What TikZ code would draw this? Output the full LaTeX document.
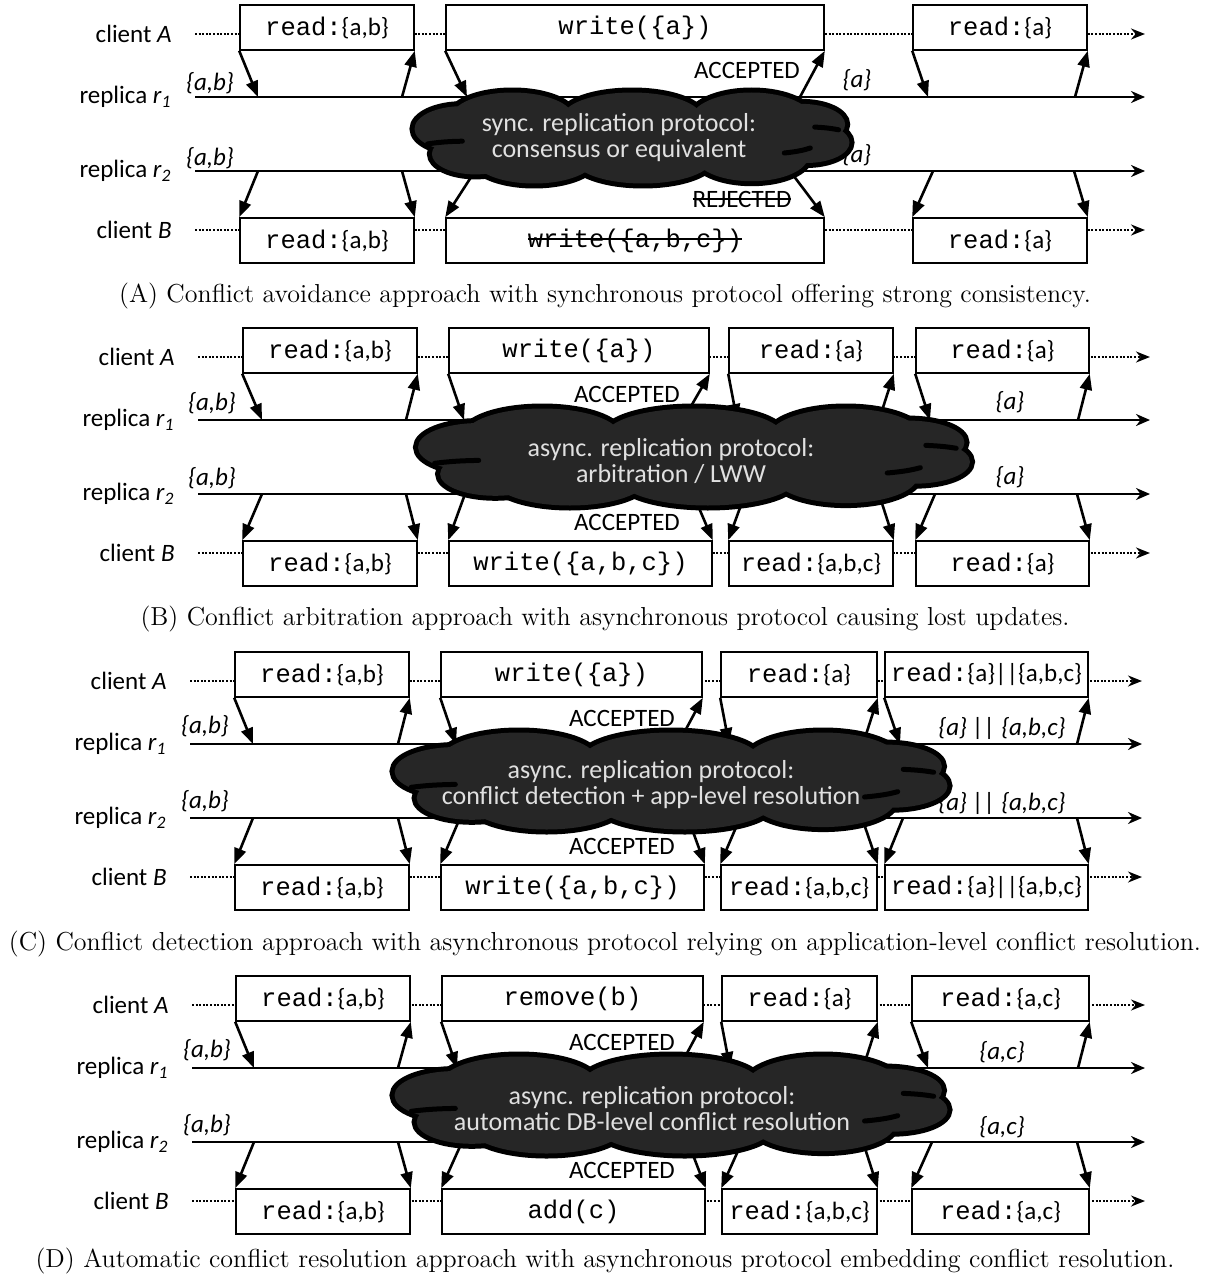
\documentclass[tikz,border=0pt]{standalone}
\usepackage{fontspec}
\newfontfamily\calibri{Carlito}
\newfontfamily\courier{Liberation Mono}
\usetikzlibrary{
    arrows.meta,
    positioning,
    fit,
}
\newcommand{\codetxt}[1]{{\courier\fontsize{12.75}{15}\selectfont #1}}
\newcommand{\crossout}[1]{\setbox0\hbox{#1}\rlap{\rule[0.3em]{\wd0}{0.7pt}}\box0}
% puffs of the protocol cloud (unit box, centre at the origin)
\newcommand{\cloudpuffs}{0/0/0.8/0.6, -0.55/-0.45/0.28/0.55, 0/-0.45/0.32/0.55,
    0.55/-0.4/0.28/0.6, -0.78/-0.2/0.22/0.5, -0.72/0.35/0.2/0.45,
    0.78/-0.3/0.2/0.45, 0.8/0.1/0.2/0.45, -0.45/0.45/0.28/0.55,
    0.05/0.45/0.32/0.55, 0.55/0.4/0.26/0.55}

\tikzset{
    protocloud/.pic={
        \foreach \px/\py/\rx/\ry in \cloudpuffs
            \draw[line width=5pt] (\px,\py) ellipse [x radius=\rx, y radius=\ry];
        \foreach \px/\py/\rx/\ry in \cloudpuffs
            \fill[black!85] (\px,\py) ellipse [x radius=\rx, y radius=\ry];
        \draw[line width=2.5pt, line cap=round] (-0.94,0.13) to[bend left=15] (-0.78,0.07);
        \draw[line width=2.5pt, line cap=round] (0.84,-0.24) to[bend left=15] (0.95,-0.18);
        \draw[line width=2.5pt, line cap=round] (0.70,0.33) to[bend right=15] (0.82,0.22);
    },
}

\begin{document}
\begin{tikzpicture}[x=0.5pt, y=-0.5pt,
    opbox/.style={draw, line width=0.8pt, fill=white, inner sep=0pt,
        label={[optext]center:{#1}}},
    optext/.style={inner sep=0pt, font=\calibri\fontsize{12.5}{15}\selectfont},
    clientline/.style={line width=1pt, dash pattern=on 1pt off 0.8pt,
        -{Stealth[length=7pt, width=5.5pt]}},
    replicaline/.style={line width=1.3pt, -{Stealth[length=7pt, width=6pt]}},
    msg/.style={line width=1.3pt, -{Triangle[length=8pt, width=6pt]}},
    rowlabel/.style={inner sep=0pt, anchor=east, font=\calibri\fontsize{12.5}{15}\selectfont},
    statelabel/.style={inner sep=0pt, font=\calibri\itshape\fontsize{12.5}{15}\selectfont},
    ack/.style={inner sep=0pt, font=\calibri\fontsize{12.5}{15}\selectfont},
    cloudtext/.style={align=center, text=white!88!black,
        font=\calibri\fontsize{13}{13}\selectfont},
    caption/.style={font=\fontsize{13}{15}\selectfont},
]
\useasboundingbox (0,0) rectangle (1210,1284);

% ---------------- (A) ----------------
\begin{scope}
    \coordinate (ca0) at (195,34);  \coordinate (ca1) at (1145,34);
    \coordinate (ra0) at (195,97);  \coordinate (ra1) at (1145,97);
    \coordinate (rb0) at (195,171); \coordinate (rb1) at (1145,171);
    \coordinate (cb0) at (195,230); \coordinate (cb1) at (1145,230);
    \draw[clientline] (ca0) -- (ca1);
    \draw[clientline] (cb0) -- (cb1);
    \draw[replicaline] (ra0) -- (ra1);
    \draw[replicaline] (rb0) -- (rb1);
    \node[rowlabel, left=11.5pt of ca0] (lca) {client \textit{A}};
    \node[rowlabel, left=11.5pt of ra0] (lra) {replica \textit{r}\textsubscript{\textit{1}}};
    \node[rowlabel, left=11.5pt of rb0] (lrb) {replica \textit{r}\textsubscript{\textit{2}}};
    \node[rowlabel, left=11.5pt of cb0] (lcb) {client \textit{B}};
    \node[opbox={\codetxt{read:}\{a,b\}}, fit={(240,5) (414,50)}] (a1) {};
    \node[opbox={\codetxt{write(\{a\})}}, fit={(446,5) (824,50)}] (a2) {};
    \node[opbox={\codetxt{read:}\{a\}}, fit={(913,5) (1087,50)}] (a3) {};
    \node[opbox={\codetxt{read:}\{a,b\}}, fit={(240,218) (414,263)}] (b1) {};
    \node[opbox={\crossout{\codetxt{write(\{a,b,c\})}}}, fit={(446,218) (824,263)}] (b2) {};
    \node[opbox={\codetxt{read:}\{a\}}, fit={(913,218) (1087,263)}] (b3) {};
    \foreach \i/\l/\r in {1/258/402, 2/467/800, 3/928/1075} {
        \coordinate (ul\i) at (\l,97); \coordinate (ur\i) at (\r,97);
        \draw[msg] (a\i.south west) -- (ul\i);
        \draw[msg] (ur\i) -- (a\i.south east);
    }
    \foreach \i/\l/\r in {1/258/402, 2/475/790, 3/933/1074} {
        \coordinate (vl\i) at (\l,171); \coordinate (vr\i) at (\r,171);
        \draw[msg] (vl\i) -- (b\i.north west);
        \draw[msg] (vr\i) -- (b\i.north east);
    }
    \node[statelabel] (sa1) at (210,83) {\{a,b\}};
    \node[statelabel] (sb1) at (210,158) {\{a,b\}};
    \node[statelabel] (sa2) at (857,80) {\{a\}};
    \node[statelabel] (sb2) at (857,155) {\{a\}};
    \node[ack] (acka) at (747,70) {ACCEPTED};
    \node[ack] (rejb) at (742,199) {\crossout{REJECTED}};
    \pic[xscale=217.5, yscale=45.5] (cloudA) at (632,138) {protocloud};
    \node[cloudtext] (protoA) at (619,138) {sync. replication protocol:\\consensus or equivalent};
    \node[caption] (capA) at (605,296) {(A) Conflict avoidance approach with synchronous protocol offering strong consistency.};
\end{scope}

% ---------------- (B) ----------------
\begin{scope}[shift={(0,323)}]
    \coordinate (ca0) at (198,34);  \coordinate (ca1) at (1150,34);
    \coordinate (ra0) at (198,97);  \coordinate (ra1) at (1150,97);
    \coordinate (rb0) at (198,171); \coordinate (rb1) at (1150,171);
    \coordinate (cb0) at (198,230); \coordinate (cb1) at (1150,230);
    \draw[clientline] (ca0) -- (ca1);
    \draw[clientline] (cb0) -- (cb1);
    \draw[replicaline] (ra0) -- (ra1);
    \draw[replicaline] (rb0) -- (rb1);
    \node[rowlabel, left=11.5pt of ca0] (lca) {client \textit{A}};
    \node[rowlabel, left=11.5pt of ra0] (lra) {replica \textit{r}\textsubscript{\textit{1}}};
    \node[rowlabel, left=11.5pt of rb0] (lrb) {replica \textit{r}\textsubscript{\textit{2}}};
    \node[rowlabel, left=11.5pt of cb0] (lcb) {client \textit{B}};
    \node[opbox={\codetxt{read:}\{a,b\}}, fit={(243,5) (417,50)}] (a1) {};
    \node[opbox={\codetxt{write(\{a\})}}, fit={(449,5) (709,50)}] (a2) {};
    \node[opbox={\codetxt{read:}\{a\}}, fit={(729,5) (893,50)}] (a3) {};
    \node[opbox={\codetxt{read:}\{a\}}, fit={(916,5) (1089,50)}] (a4) {};
    \node[opbox={\codetxt{read:}\{a,b\}}, fit={(243,218) (417,263)}] (b1) {};
    \node[opbox={\codetxt{write(\{a,b,c\})}}, fit={(449,218) (712,263)}] (b2) {};
    \node[opbox={\codetxt{read:}\{a,b,c\}}, fit={(729,218) (893,263)}] (b3) {};
    \node[opbox={\codetxt{read:}\{a\}}, fit={(916,218) (1089,263)}] (b4) {};
    \foreach \i/\l/\r in {1/262/406, 2/464/683, 3/737/879, 4/930/1078} {
        \coordinate (ul\i) at (\l,97); \coordinate (ur\i) at (\r,97);
        \draw[msg] (a\i.south west) -- (ul\i);
        \draw[msg] (ur\i) -- (a\i.south east);
    }
    \foreach \i/\l/\r in {1/262/406, 2/465/693, 3/745/879, 4/935/1077} {
        \coordinate (vl\i) at (\l,171); \coordinate (vr\i) at (\r,171);
        \draw[msg] (vl\i) -- (b\i.north west);
        \draw[msg] (vr\i) -- (b\i.north east);
    }
    \node[statelabel] (sa1) at (212,80) {\{a,b\}};
    \node[statelabel] (sb1) at (212,155) {\{a,b\}};
    \node[statelabel] (sa2) at (1010,79) {\{a\}};
    \node[statelabel] (sb2) at (1010,154) {\{a\}};
    \node[ack] (acka) at (627,71) {ACCEPTED};
    \node[ack] (ackb) at (627,199) {ACCEPTED};
    \pic[xscale=276, yscale=48.5] (cloudB) at (694,134) {protocloud};
    \node[cloudtext] (protoB) at (671,138) {async. replication protocol:\\arbitration / LWW};
    \node[caption] (capB) at (605,296) {(B) Conflict arbitration approach with asynchronous protocol causing lost updates.};
\end{scope}

% ---------------- (C) ----------------
\begin{scope}[shift={(0,647)}]
    \coordinate (ca0) at (190,34);  \coordinate (ca1) at (1142,34);
    \coordinate (ra0) at (190,97);  \coordinate (ra1) at (1142,97);
    \coordinate (rb0) at (190,171); \coordinate (rb1) at (1142,171);
    \coordinate (cb0) at (190,230); \coordinate (cb1) at (1142,230);
    \draw[clientline] (ca0) -- (ca1);
    \draw[clientline] (cb0) -- (cb1);
    \draw[replicaline] (ra0) -- (ra1);
    \draw[replicaline] (rb0) -- (rb1);
    \node[rowlabel, left=11.5pt of ca0] (lca) {client \textit{A}};
    \node[rowlabel, left=11.5pt of ra0] (lra) {replica \textit{r}\textsubscript{\textit{1}}};
    \node[rowlabel, left=11.5pt of rb0] (lrb) {replica \textit{r}\textsubscript{\textit{2}}};
    \node[rowlabel, left=11.5pt of cb0] (lcb) {client \textit{B}};
    \node[opbox={\codetxt{read:}\{a,b\}}, fit={(235,5) (409,50)}] (a1) {};
    \node[opbox={\codetxt{write(\{a\})}}, fit={(441,5) (702,50)}] (a2) {};
    \node[opbox={\codetxt{read:}\{a\}}, fit={(721,5) (877,50)}] (a3) {};
    \node[opbox={\codetxt{read:}\{a\}||\{a,b,c\}}, fit={(885,5) (1088,50)}] (a4) {};
    \node[opbox={\codetxt{read:}\{a,b\}}, fit={(235,218) (409,263)}] (b1) {};
    \node[opbox={\codetxt{write(\{a,b,c\})}}, fit={(441,218) (704,263)}] (b2) {};
    \node[opbox={\codetxt{read:}\{a,b,c\}}, fit={(721,218) (877,263)}] (b3) {};
    \node[opbox={\codetxt{read:}\{a\}||\{a,b,c\}}, fit={(885,218) (1088,263)}] (b4) {};
    \foreach \i/\l/\r in {1/253/398, 2/456/678, 3/729/863, 4/900/1077} {
        \coordinate (ul\i) at (\l,97); \coordinate (ur\i) at (\r,97);
        \draw[msg] (a\i.south west) -- (ul\i);
        \draw[msg] (ur\i) -- (a\i.south east);
    }
    \foreach \i/\l/\r in {1/253/398, 2/460/688, 3/740/862, 4/903/1077} {
        \coordinate (vl\i) at (\l,171); \coordinate (vr\i) at (\r,171);
        \draw[msg] (vl\i) -- (b\i.north west);
        \draw[msg] (vr\i) -- (b\i.north east);
    }
    \node[statelabel] (sa1) at (205,79) {\{a,b\}};
    \node[statelabel] (sb1) at (205,154) {\{a,b\}};
    \node[statelabel] (sa2) at (1002,81) {\{a\} || \{a,b,c\}};
    \node[statelabel] (sb2) at (1002,156) {\{a\} || \{a,b,c\}};
    \node[ack] (acka) at (622,71) {ACCEPTED};
    \node[ack] (ackb) at (622,199) {ACCEPTED};
    \pic[xscale=276.5, yscale=48.5] (cloudC) at (671,134) {protocloud};
    \node[cloudtext] (protoC) at (651,138) {async. replication protocol:\\conflict detection + app-level resolution};
    \node[caption] (capC) at (605,297) {(C) Conflict detection approach with asynchronous protocol relying on application-level conflict resolution.};
\end{scope}

% ---------------- (D) ----------------
\begin{scope}[shift={(0,971)}]
    \coordinate (ca0) at (192,34);  \coordinate (ca1) at (1145,34);
    \coordinate (ra0) at (192,97);  \coordinate (ra1) at (1145,97);
    \coordinate (rb0) at (192,171); \coordinate (rb1) at (1145,171);
    \coordinate (cb0) at (192,230); \coordinate (cb1) at (1145,230);
    \draw[clientline] (ca0) -- (ca1);
    \draw[clientline] (cb0) -- (cb1);
    \draw[replicaline] (ra0) -- (ra1);
    \draw[replicaline] (rb0) -- (rb1);
    \node[rowlabel, left=11.5pt of ca0] (lca) {client \textit{A}};
    \node[rowlabel, left=11.5pt of ra0] (lra) {replica \textit{r}\textsubscript{\textit{1}}};
    \node[rowlabel, left=11.5pt of rb0] (lrb) {replica \textit{r}\textsubscript{\textit{2}}};
    \node[rowlabel, left=11.5pt of cb0] (lcb) {client \textit{B}};
    \node[opbox={\codetxt{read:}\{a,b\}}, fit={(236,5) (410,50)}] (a1) {};
    \node[opbox={\codetxt{remove(b)}}, fit={(442,5) (703,50)}] (a2) {};
    \node[opbox={\codetxt{read:}\{a\}}, fit={(722,5) (877,50)}] (a3) {};
    \node[opbox={\codetxt{read:}\{a,c\}}, fit={(912,5) (1089,50)}] (a4) {};
    \node[opbox={\codetxt{read:}\{a,b\}}, fit={(236,218) (410,263)}] (b1) {};
    \node[opbox={\codetxt{add(c)}}, fit={(442,218) (705,263)}] (b2) {};
    \node[opbox={\codetxt{read:}\{a,b,c\}}, fit={(722,218) (877,263)}] (b3) {};
    \node[opbox={\codetxt{read:}\{a,c\}}, fit={(912,218) (1089,263)}] (b4) {};
    \foreach \i/\l/\r in {1/254/398, 2/457/679, 3/730/863, 4/928/1078} {
        \coordinate (ul\i) at (\l,97); \coordinate (ur\i) at (\r,97);
        \draw[msg] (a\i.south west) -- (ul\i);
        \draw[msg] (ur\i) -- (a\i.south east);
    }
    \foreach \i/\l/\r in {1/254/398, 2/462/688, 3/742/863, 4/932/1077} {
        \coordinate (vl\i) at (\l,171); \coordinate (vr\i) at (\r,171);
        \draw[msg] (vl\i) -- (b\i.north west);
        \draw[msg] (vr\i) -- (b\i.north east);
    }
    \node[statelabel] (sa1) at (207,79) {\{a,b\}};
    \node[statelabel] (sb1) at (207,154) {\{a,b\}};
    \node[statelabel] (sa2) at (1002,81) {\{a,c\}};
    \node[statelabel] (sb2) at (1002,156) {\{a,c\}};
    \node[ack] (acka) at (622,71) {ACCEPTED};
    \node[ack] (ackb) at (622,199) {ACCEPTED};
    \pic[xscale=276.5, yscale=48.5] (cloudD) at (671,134) {protocloud};
    \node[cloudtext] (protoD) at (652,138) {async. replication protocol:\\automatic DB-level conflict resolution};
    \node[caption] (capD) at (605,290) {(D) Automatic conflict resolution approach with asynchronous protocol embedding conflict resolution.};
\end{scope}
\end{tikzpicture}
\end{document}
